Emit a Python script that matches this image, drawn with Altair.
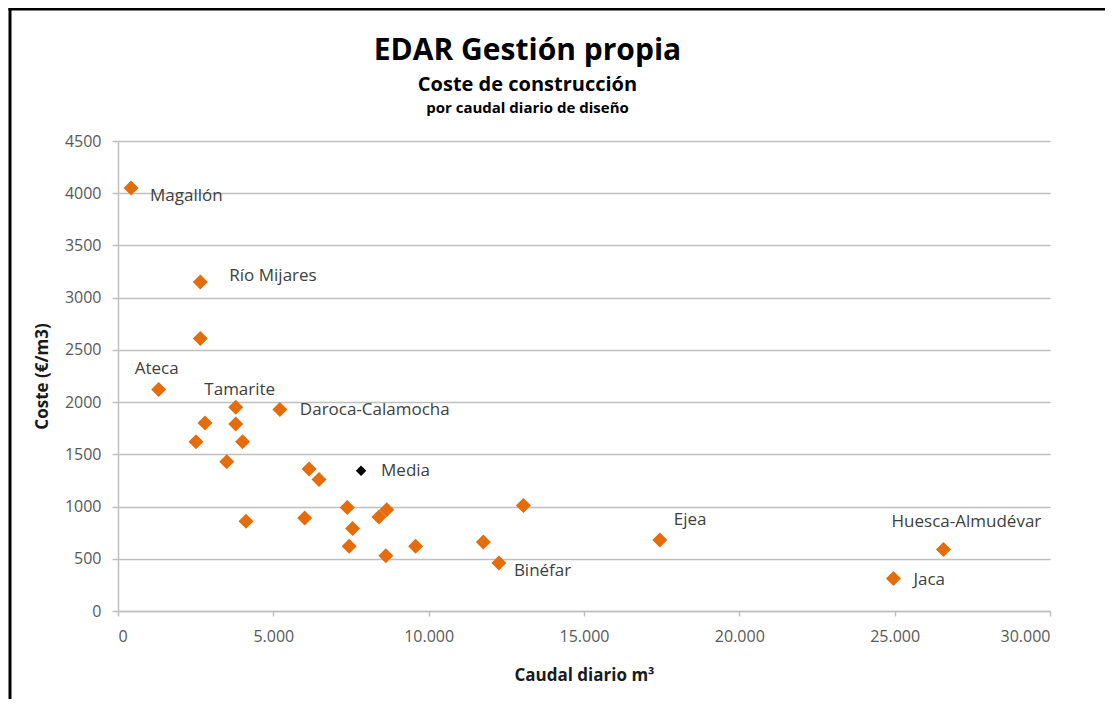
import altair as alt
import pandas as pd

# ---- data ----
caudal = [420, 2650, 2650, 1310, 3790, 5210, 2800, 3790, 2510, 4010, 3500, 6150, 6470,
          7380, 4120, 6010, 7550, 7440, 8400, 8650, 8620, 9580, 11760, 12260, 13050,
          17440, 26570, 24960]
coste = [4050, 3150, 2610, 2120, 1950, 1930, 1800, 1790, 1620, 1620, 1430, 1360, 1260,
         990, 860, 890, 790, 620, 900, 970, 530, 620, 660, 460, 1010,
         680, 590, 310]
nombre = ["Magallón", "Río Mijares", "", "Ateca", "Tamarite", "Daroca-Calamocha", "", "", "",
          "", "", "", "", "", "", "", "", "", "", "", "", "", "", "Binéfar", "",
          "Ejea", "Huesca-Almudévar", "Jaca"]
x_ticks = [0, 5000, 10000, 15000, 20000, 25000, 30000]
y_ticks = [0, 500, 1000, 1500, 2000, 2500, 3000, 3500, 4000, 4500]

titulo = "EDAR Gestión propia"
subtitulo = "Coste de construcción"
subtitulo2 = "por caudal diario de diseño"

df = pd.DataFrame({"caudal": caudal, "coste": coste, "nombre": nombre})

# label placement (style only)
label_style = {
    "Magallón": ("left", 19, 8),
    "Río Mijares": ("left", 29, -6),
    "Ateca": ("center", -2, -21),
    "Tamarite": ("center", 4, -17),
    "Daroca-Calamocha": ("left", 20, 1),
    "Binéfar": ("left", 15, 8),
    "Ejea": ("left", 14, -20),
    "Huesca-Almudévar": ("center", 23, -27),
    "Jaca": ("left", 20, 1),
}

FONT = "Open Sans"
ORANGE = "#E46C0A"
GRID = "#bfbfbf"
W, H = 932, 470

xenc = alt.X("caudal:Q",
             scale=alt.Scale(domain=[0, 30000], nice=False),
             axis=alt.Axis(values=x_ticks, grid=False, title="Caudal diario m³",
                           labelExpr="replace(format(datum.value, ','), ',', '.')",
                           tickSize=5, labelPadding=12, titlePadding=23,
                           labelFontSize=16, titleFontSize=17))
yenc = alt.Y("coste:Q",
             scale=alt.Scale(domain=[0, 4500], nice=False),
             axis=alt.Axis(values=y_ticks, grid=True, title="Coste (€/m3)", format="d",
                           tickSize=6, labelPadding=11, titlePadding=13,
                           labelFontSize=16, titleFontSize=17))

base = alt.Chart(df)

points = base.mark_point(shape="diamond", filled=True, size=225, color=ORANGE,
                         opacity=1).encode(x=xenc, y=yenc)

label_layers = []
for name, (align, dx, dy) in label_style.items():
    label_layers.append(
        base.transform_filter(alt.datum.nombre == name)
        .mark_text(align=align, baseline="middle", dx=dx, dy=dy, font=FONT,
                   fontSize=17, color="#404040")
        .encode(x="caudal:Q", y="coste:Q", text="nombre:N")
    )

media = base.transform_aggregate(mx="mean(caudal)", my="mean(coste)")
media_pt = media.mark_point(shape="diamond", filled=True, size=110, color="#000000",
                            opacity=1).encode(x="mx:Q", y="my:Q")
media_lbl = media.mark_text(align="left", baseline="middle", dx=20, font=FONT,
                            fontSize=17, color="#404040").encode(
    x="mx:Q", y="my:Q", text=alt.value("Media"))

one = alt.Data(values=[{}])
cx = 409.5
t1 = alt.Chart(one).mark_text(font=FONT, fontSize=30, fontWeight="bold", color="#000000",
                              align="center", baseline="alphabetic").encode(
    x=alt.value(cx), y=alt.value(-81), text=alt.value(titulo))
t2 = alt.Chart(one).mark_text(font=FONT, fontSize=20, fontWeight="bold", color="#000000",
                              align="center", baseline="alphabetic").encode(
    x=alt.value(cx), y=alt.value(-50), text=alt.value(subtitulo))
t3 = alt.Chart(one).mark_text(font=FONT, fontSize=15, fontWeight="bold", color="#000000",
                              align="center", baseline="alphabetic").encode(
    x=alt.value(cx), y=alt.value(-28), text=alt.value(subtitulo2))

frame_left = alt.Chart(one).mark_rule(color="#000000", strokeWidth=3).encode(
    x=alt.value(-108), y=alt.value(-133), y2=alt.value(700))
frame_top = alt.Chart(one).mark_rule(color="#000000", strokeWidth=3).encode(
    x=alt.value(-109.5), x2=alt.value(1100), y=alt.value(-132))

chart = alt.layer(points, *label_layers, media_pt, media_lbl, t1, t2, t3,
                  frame_left, frame_top).properties(
    width=W, height=H,
    autosize=alt.AutoSizeParams(type="none"),
    padding={"left": 110, "top": 133, "right": 55, "bottom": 88},
    background="#ffffff",
).configure_view(strokeWidth=0).configure_axis(
    labelFont=FONT, titleFont=FONT, labelColor="#595959", titleColor="#1a1a1a",
    titleFontWeight="bold", domainColor=GRID, tickColor=GRID, gridColor=GRID,
    gridWidth=1.5, domainWidth=1.5, tickWidth=1.5,
)

chart.save("out.html", embed_options={"renderer": "svg", "actions": False})
